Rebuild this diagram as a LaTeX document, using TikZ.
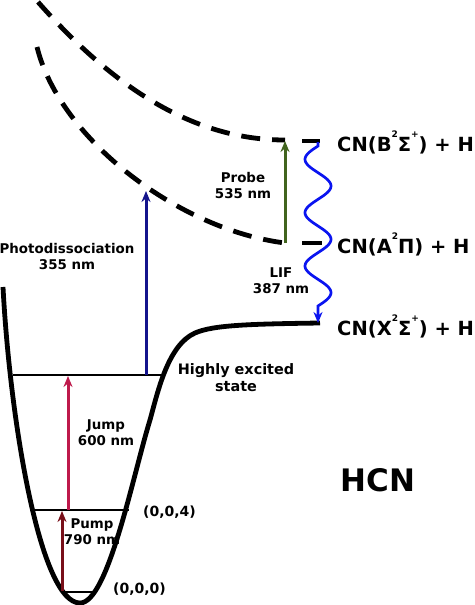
\documentclass[tikz,border=0pt]{standalone}
\usepackage{fontspec}
\setmainfont{DejaVu Sans}
\usetikzlibrary{arrows.meta}
\definecolor{navyarrow}{RGB}{20,20,140}
\definecolor{probegreen}{RGB}{65,100,30}
\definecolor{jumpred}{RGB}{190,25,75}
\definecolor{pumpred}{RGB}{120,15,25}
\definecolor{lifblue}{RGB}{10,20,240}
\newcommand{\supsc}[1]{\raisebox{0.72em}{\fontsize{9}{9}\selectfont #1}}
\begin{document}
\begin{tikzpicture}[x=1pt,y=-1pt,
  lbl/.style={font=\fontsize{13.4}{16}\selectfont\bfseries, align=center, inner sep=0pt},
  cnlbl/.style={font=\fontsize{19.5}{22}\selectfont\bfseries, anchor=west, inner sep=0pt},
  dashcurve/.style={line width=4.8pt, dash pattern=on 19pt off 12pt},
  levelend/.style={line width=4.8pt},
  well/.style={line width=4.8pt, line join=round},
  level/.style={line width=1.8pt},
  trans/.style={line width=3pt, -{Stealth[length=11pt,width=9pt]}}]
\useasboundingbox (0,0) rectangle (474,605);
% dashed dissociative curves
\draw[dashcurve] (38,2) .. controls (120,95) and (200,140) .. (285,140);
\draw[levelend] (302,141) -- (320,141);
\draw[dashcurve] (37,47) .. controls (60,140) and (180,230) .. (285,243);
\draw[levelend] (302,243) -- (322,243);
% potential well
\draw[well] (3,287) .. controls (10,420) and (40,603) .. (80,603)
  .. controls (108,603) and (133,475) .. (150,420)
  .. controls (158,391) and (168,345) .. (195,333)
  .. controls (213,325) and (250,324) .. (320,323);
% levels
\draw[level] (13,375) -- (162,375);
\draw[level] (33,510) -- (129,510);
\draw[level] (63,592) -- (97,592);
% arrow endpoints
\coordinate (pumpA) at (62,591);
\coordinate (pumpB) at (62,511);
\coordinate (jumpA) at (68,510);
\coordinate (jumpB) at (68,376);
\coordinate (photA) at (146,375);
\coordinate (photB) at (146,191);
\coordinate (probA) at (285,243);
\coordinate (probB) at (285,141);
\coordinate (lifA) at (318,142);
\coordinate (lifB) at (318,323);
% transitions
\draw[trans, pumpred] (pumpA) -- (pumpB);
\draw[trans, jumpred] (jumpA) -- (jumpB);
\draw[trans, navyarrow] (photA) -- (photB);
\draw[trans, probegreen] (probA) -- (probB);
\draw[trans, lifblue, line width=2.7pt] (lifA) -- (318,146) -- plot[domain=0:160, samples=120, smooth] ({318-13*sin(6.75*\x)},{146+\x}) -- (lifB);
% labels
\node[lbl] (photo) at (67,257) {Photodissociation\\355 nm};
\node[lbl] (probe) at (243,186) {Probe\\535 nm};
\node[lbl] (lif) at (281,281) {LIF\\387 nm};
\node[lbl, font=\fontsize{14.4}{17}\selectfont\bfseries] (hes) at (236,378) {Highly excited\\state};
\node[lbl] (jump) at (106,433) {Jump\\600 nm};
\node[lbl] (pump) at (92,532) {Pump\\790 nm};
\node[lbl, anchor=west, font=\fontsize{14}{16}\selectfont\bfseries] (l4) at (143,512) {(0,0,4)};
\node[lbl, anchor=west, font=\fontsize{14}{16}\selectfont\bfseries] (l0) at (113,589) {(0,0,0)};
\node[cnlbl] (cnb) at (337,142) {CN(B\supsc{2}Σ\supsc{+}) + H};
\node[cnlbl] (cna) at (337,244) {CN(A\supsc{2}Π) + H};
\node[cnlbl] (cnx) at (337,326) {CN(X\supsc{2}Σ\supsc{+}) + H};
\node[font=\fontsize{31}{36}\selectfont\bfseries, inner sep=0pt] (hcn) at (378,480) {HCN};
\end{tikzpicture}
\end{document}
